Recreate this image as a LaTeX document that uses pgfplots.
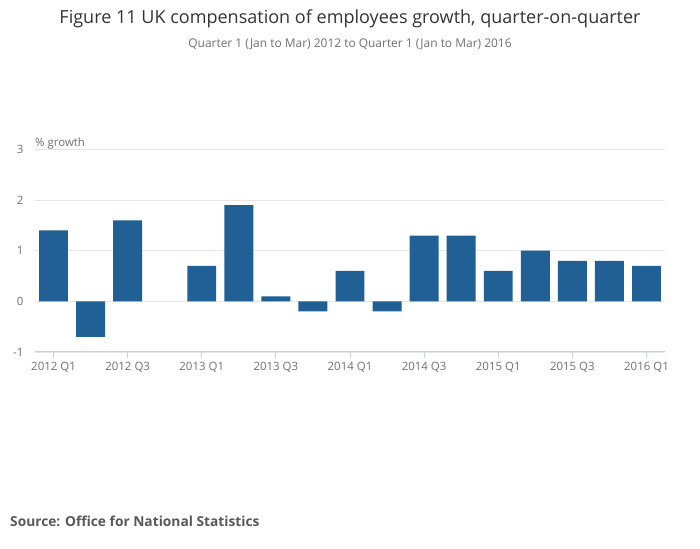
\documentclass[border=0pt]{standalone}
\usepackage{pgfplots}
\pgfplotsset{compat=1.18}
\usepackage{fontspec}
\setmainfont{Open Sans}
\definecolor{barblue}{HTML}{206095}
\definecolor{gridc}{HTML}{E5E5E5}
\definecolor{axisc}{HTML}{C6D1E3}
\definecolor{titlec}{HTML}{333333}
\definecolor{tickc}{HTML}{707070}
\definecolor{srcc}{HTML}{595959}
\begin{document}
\begin{tikzpicture}
\useasboundingbox (0bp,0bp) rectangle (700bp,549bp);
\fill[white] (0bp,0bp) rectangle (700bp,549bp);
\node[anchor=center,font=\fontsize{18.1}{20}\selectfont,text=titlec,inner sep=0] at (350bp,530bp) {Figure 11 UK compensation of employees growth, quarter-on-quarter};
\node[anchor=center,font=\fontsize{12}{14}\selectfont,text=tickc,inner sep=0] at (350bp,505bp) {Quarter 1 (Jan to Mar) 2012 to Quarter 1 (Jan to Mar) 2016};
\node[anchor=west,font=\bfseries\fontsize{13.8}{16}\selectfont,text=srcc,inner sep=0] at (10bp,27.5bp) {Source: Office for National Statistics};
\node[anchor=base west,font=\fontsize{11.5}{13}\selectfont,text=tickc,inner sep=0] at (35bp,402bp) {\% growth};
\begin{axis}[
  at={(35bp,197bp)}, anchor=south west,
  scale only axis, width=630bp, height=202.5bp,
  xmin=-0.5, xmax=16.5, ymin=-1, ymax=3,
  ybar, bar width=0.78, bar shift=0pt,
  axis line style={draw=none},
  axis x line*=bottom,
  x axis line style={draw=axisc, line width=1pt},
  ytick={-1,0,1,2,3},
  ymajorgrids, grid style={gridc, line width=0.8pt},
  xtick={0,2,4,6,8,10,12,14,16},
  xticklabels={2012 Q1,2012 Q3,2013 Q1,2013 Q3,2014 Q1,2014 Q3,2015 Q1,2015 Q3,2016 Q1},
  x tick style={draw=axisc, line width=1pt},
  major tick length=6bp,
  xtick pos=bottom, xtick align=outside,
  y tick style={draw=none},
  tick label style={font=\fontsize{11.5}{13}\selectfont, text=tickc},
  /pgf/number format/assume math mode=true,
  yticklabel style={anchor=east, xshift=-8bp},
  xticklabel style={yshift=-1bp},
  clip=false,
]
\addplot[fill=barblue, draw=none] coordinates {
(0,1.4) (1,-0.7) (2,1.6) (4,0.7) (5,1.9) (6,0.1) (7,-0.2) (8,0.6)
(9,-0.2) (10,1.3) (11,1.3) (12,0.6) (13,1.0) (14,0.8) (15,0.8) (16,0.7)
};
\end{axis}
\end{tikzpicture}
\end{document}
